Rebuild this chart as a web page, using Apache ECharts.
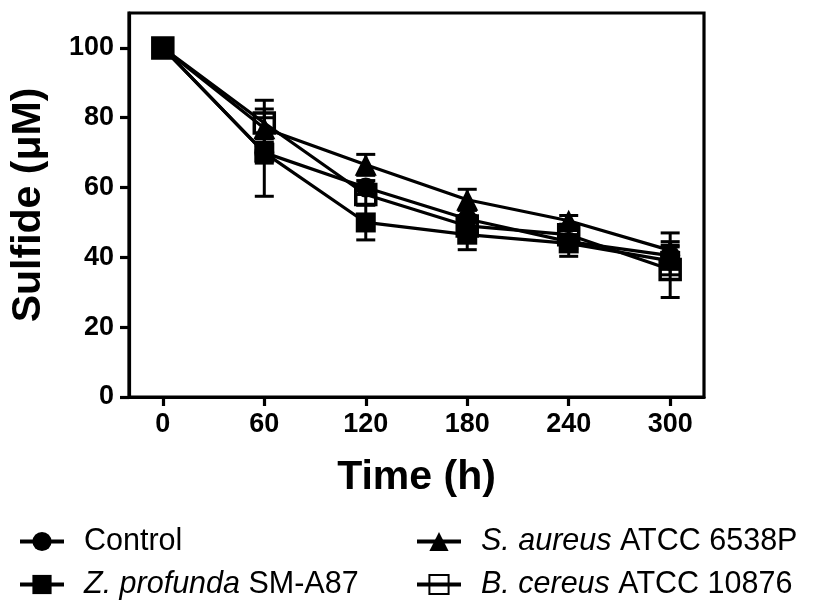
<!DOCTYPE html>
<html>
<head>
<meta charset="utf-8">
<script src="https://cdn.jsdelivr.net/npm/echarts@6/dist/echarts.min.js"></script>
<style>
html,body{margin:0;padding:0;background:#fff;}
#chart{width:817px;height:609px;}
</style>
</head>
<body>
<div id="chart"></div>
<script>
// ---- data ----
const times = [0, 60, 120, 180, 240, 300];
const xTicks = [0, 60, 120, 180, 240, 300];
const yTicks = [0, 20, 40, 60, 80, 100];

const controlVals = [100, 70, 60, 51, 44.5, 40.5];
const controlErr  = [0, 3, 2, 2.5, 2, 3];
const zprofVals   = [100, 70, 50, 46.5, 44, 39];
const zprofErr    = [0, 12.5, 5, 4.3, 3.7, 4];
const saurVals    = [100, 77, 66.5, 56.5, 50.5, 42];
const saurErr     = [0, 3, 3, 3, 1.5, 5];
const bcerVals    = [100, 78.5, 58, 49, 46.5, 36.5];
const bcerErr     = [0, 6.5, 3, 3, 3, 8];

const seriesNames = ['Control', 'Z. profunda SM-A87', 'S. aureus ATCC 6538P', 'B. cereus ATCC 10876'];
const legendRich = {
  'Control': 'Control',
  'Z. profunda SM-A87': '{i|Z. profunda} SM-A87',
  'S. aureus ATCC 6538P': '{i|S. aureus} ATCC 6538P',
  'B. cereus ATCC 10876': '{i|B. cereus} ATCC 10876'
};

const FONT = "'Liberation Sans', Arial, Helvetica, sans-serif";

function pts(vals) { return times.map((t, i) => [t, vals[i]]); }
function errPts(vals, errs) {
  return times.map((t, i) => [t, vals[i] - errs[i], vals[i] + errs[i]]).filter((d, i) => errs[i] > 0);
}

function errRender(params, api) {
  const x = api.value(0), lo = api.value(1), hi = api.value(2);
  const pLo = api.coord([x, lo]);
  const pHi = api.coord([x, hi]);
  const hw = 9.5;
  const style = { stroke: '#000', lineWidth: 3, fill: null };
  return {
    type: 'group',
    children: [
      { type: 'line', shape: { x1: pLo[0], y1: pLo[1], x2: pHi[0], y2: pHi[1] }, style },
      { type: 'line', shape: { x1: pLo[0] - hw, y1: pLo[1], x2: pLo[0] + hw, y2: pLo[1] }, style },
      { type: 'line', shape: { x1: pHi[0] - hw, y1: pHi[1], x2: pHi[0] + hw, y2: pHi[1] }, style }
    ]
  };
}

function lineSeries(name, vals, symbol, hollow) {
  return {
    name, type: 'line', data: pts(vals),
    symbol, symbolSize: symbol === 'triangle' ? 22 : 20,
    showAllSymbol: true,
    lineStyle: { color: '#000', width: 3.2 },
    itemStyle: hollow ? { color: 'rgba(0,0,0,0)', borderColor: '#000', borderWidth: 3.5 } : { color: '#000', borderWidth: 0 },
    emphasis: { disabled: true },
    animation: false, z: 3
  };
}
function errSeries(vals, errs) {
  return {
    type: 'custom', data: errPts(vals, errs), renderItem: errRender,
    animation: false, z: 2, silent: true
  };
}

const legendBase = {
  itemWidth: 44, itemHeight: 24, orient: 'horizontal', padding: 0,
  lineStyle: { width: 4, color: '#000' },
  textStyle: {
    fontFamily: FONT, fontSize: 30.5, color: '#000', padding: [0, 0, 0, 15],
    rich: { i: { fontFamily: FONT, fontSize: 30.5, fontStyle: 'italic', color: '#000' } }
  },
  formatter: (n) => legendRich[n],
  selectedMode: false
};

const option = {
  backgroundColor: '#fff',
  animation: false,
  grid: { left: 127, right: 113, top: 13, bottom: 212, show: true, borderColor: '#000', borderWidth: 3.2, containLabel: false },
  xAxis: {
    type: 'value', min: -20, max: 320,
    name: 'Time (h)', nameLocation: 'middle', nameGap: 60,
    nameTextStyle: { fontFamily: FONT, fontSize: 41, fontWeight: 'bold', color: '#000' },
    axisLine: { show: true, onZero: false, lineStyle: { color: '#000', width: 3.2 } },
    axisTick: { show: true, length: 9, lineStyle: { color: '#000', width: 3.2 }, customValues: xTicks },
    axisLabel: { fontFamily: FONT, fontSize: 27, fontWeight: 'bold', color: '#000', margin: 14, customValues: xTicks },
    splitLine: { show: false }
  },
  yAxis: {
    type: 'value', min: 0, max: 110,
    name: 'Sulfide (μM)', nameLocation: 'middle', nameGap: 80,
    nameTextStyle: { fontFamily: FONT, fontSize: 41, fontWeight: 'bold', color: '#000' },
    axisLine: { show: true, onZero: false, lineStyle: { color: '#000', width: 3.2 } },
    axisTick: { show: true, length: 9, lineStyle: { color: '#000', width: 3.2 }, customValues: yTicks },
    axisLabel: { fontFamily: FONT, fontSize: 27, fontWeight: 'bold', color: '#000', margin: 15, customValues: yTicks },
    splitLine: { show: false }
  },
  legend: [
    Object.assign({}, legendBase, { data: [seriesNames[0]], left: 18, top: 526 }),
    Object.assign({}, legendBase, { data: [seriesNames[1]], left: 18, top: 569 }),
    Object.assign({}, legendBase, { data: [seriesNames[2]], left: 415, top: 526 }),
    Object.assign({}, legendBase, { data: [seriesNames[3]], left: 415, top: 569 })
  ],
  series: [
    errSeries(controlVals, controlErr),
    errSeries(zprofVals, zprofErr),
    errSeries(saurVals, saurErr),
    errSeries(bcerVals, bcerErr),
    lineSeries(seriesNames[0], controlVals, 'circle', false),
    lineSeries(seriesNames[1], zprofVals, 'rect', false),
    lineSeries(seriesNames[2], saurVals, 'triangle', false),
    lineSeries(seriesNames[3], bcerVals, 'rect', true)
  ]
};

const chart = echarts.init(document.getElementById('chart'), null, { renderer: 'canvas' });
chart.setOption(option);
</script>
</body>
</html>
